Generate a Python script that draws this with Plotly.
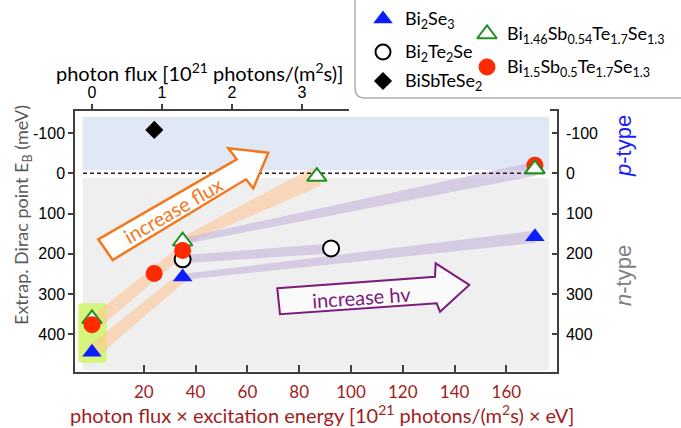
import plotly.graph_objects as go

W, H = 681, 428

# ---------------- data ----------------
# x: photon flux x excitation energy [1e21 photons/(m^2 s) x eV];  E: Dirac point E_B (meV)
bi2se3_x = [0, 35, 171]
bi2se3_E = [445, 258, 158]
bi2te2se_x = [35, 92.3]
bi2te2se_E = [214, 187]
bisbtese2_flux = [0.89]          # plotted on the top (photon flux) axis
bisbtese2_E = [-108]
bsts146_x = [0, 35, 86.8, 171]
bsts146_E = [362, 169, 8, -11]
bsts15_x = [0, 24, 35, 171]
bsts15_E = [377, 249, 192, -20]

bottom_ticks = [20, 40, 60, 80, 100, 120, 140, 160]
top_ticks = [0, 1, 2, 3]
e_ticks = [-100, 0, 100, 200, 300, 400]
e_ticktext = ["-100", "0", "100", "200", "300", "400"]

legend_labels = [
    "Bi<sub>2</sub>Se<sub>3</sub>",
    "Bi<sub>2</sub>Te<sub>2</sub>Se",
    "BiSbTeSe<sub>2</sub>",
    "Bi<sub>1.46</sub>Sb<sub>0.54</sub>Te<sub>1.7</sub>Se<sub>1.3</sub>",
    "Bi<sub>1.5</sub>Sb<sub>0.5</sub>Te<sub>1.7</sub>Se<sub>1.3</sub>",
]

# ---------------- layout geometry ----------------
PX0, PX1, PY0, PY1 = 75, 557, 111, 372           # plot area in pixels
X0PX, XPX_PER = 92.0, 2.59                          # x=0 pixel, px per unit
E0PY, EPY_PER = 173.3, 0.402                        # E=0 pixel, px per meV
TOP_PX_PER = 70.0                                   # px per unit of photon flux
XR = [(PX0 - X0PX) / XPX_PER, (PX1 - X0PX) / XPX_PER]
YR = [(PY1 - E0PY) / EPY_PER, (PY0 - E0PY) / EPY_PER]   # reversed (bottom, top)
XR2 = [(PX0 - X0PX) / TOP_PX_PER, (PX1 - X0PX) / TOP_PX_PER]

BLUE = "#0a1eff"
RED = "#ff2a00"
GREEN = "#1f8f1f"
DARKRED = "#a01e1e"
ORANGE = "#f2781e"
PURPLE = "#7b1c7b"
PEACH = "rgba(251,196,150,0.6)"
LAVENDER = "rgba(195,180,218,0.6)"
AXCOL = "#404040"


def d2p(x, e):
    return (X0PX + x * XPX_PER, E0PY + e * EPY_PER)


def p2d(px, py):
    return ((px - X0PX) / XPX_PER, (py - E0PY) / EPY_PER)


def band(xa, ea, xb, eb, wa, wb):
    ax, ay = d2p(xa, ea)
    bx, by = d2p(xb, eb)
    dx, dy = bx - ax, by - ay
    L = (dx * dx + dy * dy) ** 0.5
    nx, ny = -dy / L, dx / L
    pts = [(ax + nx * wa, ay + ny * wa), (bx + nx * wb, by + ny * wb),
           (bx - nx * wb, by - ny * wb), (ax - nx * wa, ay - ny * wa),
           (ax + nx * wa, ay + ny * wa)]
    d = [p2d(*p) for p in pts]
    return [p[0] for p in d], [p[1] for p in d]


fig = go.Figure()

# ---------------- shaded bands (flux: peach, hv: lavender) ----------------
band_specs = [
    (bsts15_x, bsts15_E, 0, 2, 7, 5, PEACH),
    (bi2se3_x, bi2se3_E, 0, 1, 7, 5, PEACH),
    (bsts146_x, bsts146_E, 1, 2, 4, 10, PEACH),
    (bsts146_x, bsts146_E, 1, 3, 3, 7, LAVENDER),
    (bi2te2se_x, bi2te2se_E, 0, 1, 4, 5, LAVENDER),
    (bi2se3_x, bi2se3_E, 1, 2, 3, 6, LAVENDER),
]
for xs, es, i, j, wa, wb, col in band_specs:
    bx, by = band(xs[i], es[i], xs[j], es[j], wa, wb)
    fig.add_trace(go.Scatter(x=bx, y=by, mode="lines", fill="toself", fillcolor=col,
                             line=dict(width=0), hoverinfo="skip", showlegend=False))

# dashed zero line
fig.add_trace(go.Scatter(x=[p2d(83, 0)[0], bsts146_x[-1]], y=[0, 0], mode="lines",
                         line=dict(color="#222222", width=1.5, dash="4px,3px"),
                         hoverinfo="skip", showlegend=False))

# ---------------- markers ----------------
tri = dict(size=17, symbol="triangle-up")
fig.add_trace(go.Scatter(x=bi2te2se_x, y=bi2te2se_E, mode="markers", showlegend=False,
                         marker=dict(size=16, symbol="circle", color="white",
                                     line=dict(color="black", width=2))))
fig.add_trace(go.Scatter(x=bi2se3_x, y=bi2se3_E, mode="markers", showlegend=False,
                         marker=dict(color=BLUE, line=dict(width=0), **tri)))
fig.add_trace(go.Scatter(x=bsts146_x, y=bsts146_E, mode="markers", showlegend=False,
                         marker=dict(color="white", line=dict(color=GREEN, width=2), **tri)))
fig.add_trace(go.Scatter(x=bsts15_x, y=bsts15_E, mode="markers", showlegend=False,
                         marker=dict(size=17, symbol="circle", color=RED, line=dict(width=0))))
fig.add_trace(go.Scatter(x=bsts146_x[-1:], y=bsts146_E[-1:], mode="markers", showlegend=False,
                         marker=dict(color="white", line=dict(color=GREEN, width=2), **tri)))
fig.add_trace(go.Scatter(x=bisbtese2_flux, y=bisbtese2_E, xaxis="x2", yaxis="y", mode="markers",
                         showlegend=False,
                         marker=dict(size=14, symbol="diamond", color="black", line=dict(width=0))))
# keep right axis alive
fig.add_trace(go.Scatter(x=[0], y=[0], xaxis="x", yaxis="y2", mode="markers",
                         marker=dict(opacity=0), hoverinfo="skip", showlegend=False))

# ---------------- custom legend (pixel space x3/y3) ----------------
leg_syms = [
    dict(size=17, symbol="triangle-up", color=BLUE, line=dict(width=0)),
    dict(size=15, symbol="circle", color="white", line=dict(color="black", width=2)),
    dict(size=14, symbol="diamond", color="black", line=dict(width=0)),
    dict(size=17, symbol="triangle-up", color="white", line=dict(color=GREEN, width=2)),
    dict(size=17, symbol="circle", color=RED, line=dict(width=0)),
]
leg_pos = [(383, 19), (383, 52), (383, 81), (487, 34), (487, 67)]
leg_txt_x = [403, 403, 403, 505, 505]
for (lx, ly), m in zip(leg_pos, leg_syms):
    fig.add_trace(go.Scatter(x=[lx], y=[ly], xaxis="x3", yaxis="y3", mode="markers",
                             marker=m, hoverinfo="skip", showlegend=False))

annotations = []
for (lx, ly), tx, lab in zip(leg_pos, leg_txt_x, legend_labels):
    annotations.append(dict(x=tx, y=ly, xref="x3", yref="y3", text=lab, showarrow=False,
                            xanchor="left", yanchor="middle",
                            font=dict(family="Lato", size=18, color="black")))

# axis titles / labels
annotations += [
    dict(x=322, y=414, xref="x3", yref="y3", showarrow=False, xanchor="center", yanchor="middle",
         text="photon flux × excitation energy [10<sup>21</sup> photons/(m<sup>2</sup>s) × eV]",
         font=dict(family="Lato", size=20, color=DARKRED)),
    dict(x=199, y=72, xref="x3", yref="y3", showarrow=False, xanchor="center", yanchor="middle",
         text="photon flux [10<sup>21</sup> photons/(m<sup>2</sup>s)]",
         font=dict(family="Lato", size=20, color="black")),
    dict(x=22, y=215, xref="x3", yref="y3", showarrow=False, textangle=-90,
         xanchor="center", yanchor="middle",
         text="Extrap. Dirac point E<sub>B</sub> (meV)",
         font=dict(family="Lato", size=18, color="#595959")),
    dict(x=623, y=146, xref="x3", yref="y3", showarrow=False, textangle=-90,
         xanchor="center", yanchor="middle", text="<i>p</i>-type",
         font=dict(family="Liberation Sans", size=22, color="#1a1aff")),
    dict(x=623, y=276, xref="x3", yref="y3", showarrow=False, textangle=-90,
         xanchor="center", yanchor="middle", text="<i>n</i>-type",
         font=dict(family="Liberation Sans", size=22, color="#808080")),
    dict(x=173, y=210, xref="x3", yref="y3", showarrow=False, textangle=-30,
         xanchor="center", yanchor="middle", text="increase flux",
         font=dict(family="Lato", size=20, color=ORANGE)),
    dict(x=361, y=297, xref="x3", yref="y3", showarrow=False, textangle=-4,
         xanchor="center", yanchor="middle", text="increase hv",
         font=dict(family="Lato", size=20, color=PURPLE)),
]


def pxpath(pts, close=True):
    s = "M " + " L ".join(f"{x:.2f},{y:.2f}" for x, y in pts)
    return s + (" Z" if close else "")


# lime highlight box (rounded), built in px then mapped to data
lx0, lx1, ly0, ly1, rr = 78.3, 106.7, 303.3, 362.7, 4
lime_px = [(lx0 + rr, ly0), (lx1 - rr, ly0), ("Q", lx1, ly0, lx1, ly0 + rr), (lx1, ly1 - rr),
           ("Q", lx1, ly1, lx1 - rr, ly1), (lx0 + rr, ly1), ("Q", lx0, ly1, lx0, ly1 - rr),
           (lx0, ly0 + rr), ("Q", lx0, ly0, lx0 + rr, ly0)]
parts = []
for k, p in enumerate(lime_px):
    if p[0] == "Q":
        c = p2d(p[1], p[2]); e = p2d(p[3], p[4])
        parts.append(f"Q {c[0]:.3f},{c[1]:.3f} {e[0]:.3f},{e[1]:.3f}")
    else:
        d = p2d(*p)
        parts.append(("M " if k == 0 else "L ") + f"{d[0]:.3f},{d[1]:.3f}")
lime_path = " ".join(parts) + " Z"

bx0 = p2d(82.7, 0)[0]
bx1 = p2d(549, 0)[0]
shapes = [
    dict(type="rect", xref="x", yref="y", x0=bx0, x1=bx1, y0=p2d(0, 116.7)[1], y1=p2d(0, 170)[1],
         fillcolor="#e1e8f5", line=dict(width=0), layer="below"),
    dict(type="rect", xref="x", yref="y", x0=bx0, x1=bx1, y0=p2d(0, 178)[1], y1=p2d(0, 370.5)[1],
         fillcolor="#efefef", line=dict(width=0), layer="below"),
    dict(type="path", xref="x", yref="y", path=lime_path, fillcolor="#d6f57c",
         line=dict(width=0), layer="below"),
    # flux arrow
    dict(type="path", xref="x3", yref="y3", layer="above",
         path=pxpath([(98.3, 239.3), (236.7, 159.3), (228.3, 148.3), (268.3, 152.7),
                      (253.3, 188.3), (246, 179.3), (112.7, 260)]),
         fillcolor="white", line=dict(color=ORANGE, width=2.5)),
    # hv arrow
    dict(type="path", xref="x3", yref="y3", layer="above",
         path=pxpath([(277.3, 288.3), (435, 276.7), (435.7, 263.3), (469.3, 285),
                      (440, 311.7), (436.7, 303.3), (280, 314.3)]),
         fillcolor="#fafafa", line=dict(color=PURPLE, width=2)),
    # white cover behind legend over the top axis line
    dict(type="rect", xref="x3", yref="y3", layer="above", x0=349, x1=550, y0=100, y1=113.5,
         fillcolor="white", line=dict(width=0)),
    # legend frame
    dict(type="path", xref="x3", yref="y3", layer="above",
         path="M 355,-2 L 355,88 Q 355,98 365,98 L 684,98",
         line=dict(color="#b0b0b0", width=1.5)),
]

xd = [PX0 / W, PX1 / W]
yd = [(H - PY1) / H, (H - PY0) / H]
tickfont = dict(family="Liberation Sans", size=16, color="black")

fig.update_layout(
    width=W, height=H, margin=dict(l=0, r=0, t=0, b=0, pad=0),
    paper_bgcolor="white", plot_bgcolor="rgba(0,0,0,0)", showlegend=False,
    xaxis=dict(domain=xd, range=XR, anchor="y", tickmode="array", tickvals=bottom_ticks,
               ticks="inside", ticklen=7, tickwidth=1.5, tickcolor=AXCOL,
               showline=True, linecolor=AXCOL, linewidth=1.5, showgrid=False, zeroline=False,
               tickfont=dict(family="Lato", size=17, color=DARKRED), ticklabelstandoff=4,
               automargin=False),
    xaxis2=dict(overlaying="x", side="top", anchor="y", range=XR2, tickmode="array",
                tickvals=top_ticks, ticks="outside", ticklen=5, tickwidth=1.5, tickcolor=AXCOL,
                showline=True, linecolor=AXCOL, linewidth=1.5, showgrid=False, zeroline=False,
                tickfont=tickfont, automargin=False),
    yaxis=dict(domain=yd, range=YR, anchor="x", tickmode="array", tickvals=e_ticks,
               ticktext=e_ticktext,
               ticks="outside", ticklen=5, tickwidth=1.5, tickcolor=AXCOL,
               showline=True, linecolor=AXCOL, linewidth=1.5, showgrid=False, zeroline=False,
               tickfont=tickfont, automargin=False),
    yaxis2=dict(overlaying="y", side="right", anchor="x", range=YR, tickmode="array",
                tickvals=e_ticks, ticktext=e_ticktext,
                ticks="inside", ticklen=5, tickwidth=1.5, tickcolor=AXCOL,
                showline=True, linecolor=AXCOL, linewidth=1.5, showgrid=False, zeroline=False,
                tickfont=tickfont, ticklabelstandoff=4, automargin=False),
    xaxis3=dict(domain=[0, 1], range=[0, W], anchor="y3", visible=False, fixedrange=True),
    yaxis3=dict(domain=[0, 1], range=[H, 0], anchor="x3", visible=False, fixedrange=True),
    shapes=shapes,
    annotations=annotations,
)

fig.write_html("out.html", config={"displayModeBar": False},
               post_script="document.body.style.margin='0px';")
